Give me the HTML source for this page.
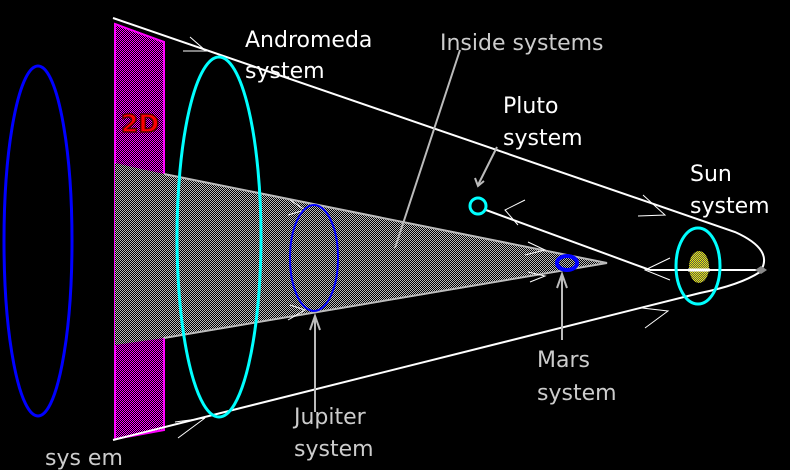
<!DOCTYPE html>
<html><head><style>
html,body{margin:0;padding:0;background:#000;width:790px;height:470px;overflow:hidden}
svg{display:block}
text{font-family:"DejaVu Sans","Liberation Sans",sans-serif;font-size:22px;fill:#fff}
</style></head><body>
<svg width="790" height="470" viewBox="0 0 790 470">
<defs>
<pattern id="mg" width="2" height="2" patternUnits="userSpaceOnUse"><rect width="2" height="2" fill="#000"/><rect width="1" height="1" fill="#f0f"/><rect x="1" y="1" width="1" height="1" fill="#f0f"/></pattern>
<pattern id="gy" width="2" height="2" patternUnits="userSpaceOnUse"><rect width="2" height="2" fill="#000"/><rect width="1" height="1" fill="#bbb"/><rect x="1" y="1" width="1" height="1" fill="#bbb"/></pattern>
<pattern id="yl" width="2" height="2" patternUnits="userSpaceOnUse"><rect width="2" height="2" fill="#555"/><rect width="1" height="1" fill="#ee0"/><rect x="1" y="1" width="1" height="1" fill="#ee0"/></pattern>
</defs>
<ellipse cx="38" cy="241" rx="34" ry="175" fill="none" stroke="#00f" stroke-width="3"/>
<polygon points="115,24 164,42 164,430 115,439" fill="url(#mg)" stroke="#f0f" stroke-width="2"/>
<polygon points="115,163 164,174 607,263 164,338 115,345" fill="url(#gy)"/>
<polyline points="164,174 607,263 164,338" fill="none" stroke="#bbb" stroke-width="2"/>
<text x="121" y="132" style="font-weight:bold;fill:#f00;stroke:#500;stroke-width:1.5px;font-size:25px">2D</text>
<path d="M113,18 L735,232 Q775,250 760,272 Q740,285 700,293 L113,440" fill="none" stroke="#fff" stroke-width="2"/>
<line x1="650" y1="270" x2="765" y2="270" stroke="#fff" stroke-width="2"/>
<line x1="486" y1="210" x2="650" y2="270" stroke="#fff" stroke-width="2"/>
<g stroke="#fff" stroke-width="1" fill="none">
<path d="M190,37 L206,51 L183,51"/><path d="M643,195 L665,215 L638,216"/>
<path d="M642,308 L668,311 L645,328"/><path d="M175,422 L205,418 L178,438"/>
<path d="M525,200 L505,210 L518,225"/><path d="M670,258 L645,270 L670,280"/>
<path d="M528,242 L545,250 L525,255"/><path d="M528,272 L545,276 L530,282"/>
<path d="M290,200 L305,210 L288,215"/><path d="M290,305 L305,310 L288,320"/>
</g>
<ellipse cx="219" cy="237" rx="42" ry="180" fill="none" stroke="#0ff" stroke-width="3"/>
<ellipse cx="314" cy="258" rx="24" ry="53" fill="none" stroke="#00f" stroke-width="2"/>
<circle cx="478" cy="206" r="8" fill="none" stroke="#0ff" stroke-width="3"/>
<ellipse cx="567" cy="263" rx="10" ry="7" fill="none" stroke="#00f" stroke-width="4"/>
<ellipse cx="699" cy="267" rx="10" ry="16" fill="url(#yl)"/>
<line x1="688" y1="270" x2="710" y2="270" stroke="#fff" stroke-width="3"/>
<ellipse cx="698" cy="266" rx="22" ry="38" fill="none" stroke="#0ff" stroke-width="3"/>
<path d="M755,270 L761,266 L767,270 L761,274Z" fill="#888"/>
<g stroke="#bbb" stroke-width="2" fill="none">
<line x1="460" y1="50" x2="395" y2="248"/>
<line x1="497" y1="147" x2="478" y2="185"/><path d="M475,178 L478,186 L484,181"/>
<line x1="315" y1="412" x2="315" y2="318"/><path d="M310,330 L315,316 L320,330"/>
<line x1="562" y1="340" x2="562" y2="276"/><path d="M557,288 L562,274 L567,288"/>
</g>
<text x="245" y="47">Andromeda</text>
<text x="245" y="78">system</text>
<text x="440" y="50" style="fill:#ccc">Inside systems</text>
<text x="503" y="113">Pluto</text>
<text x="503" y="145">system</text>
<text x="690" y="181">Sun</text>
<text x="690" y="213">system</text>
<text x="537" y="367" style="fill:#ccc">Mars</text>
<text x="537" y="400" style="fill:#ccc">system</text>
<text x="294" y="424" style="fill:#ccc">Jupiter</text>
<text x="294" y="456" style="fill:#ccc">system</text>
<text x="45" y="465" style="fill:#ccc">sys em</text>
</svg>
</body></html>
